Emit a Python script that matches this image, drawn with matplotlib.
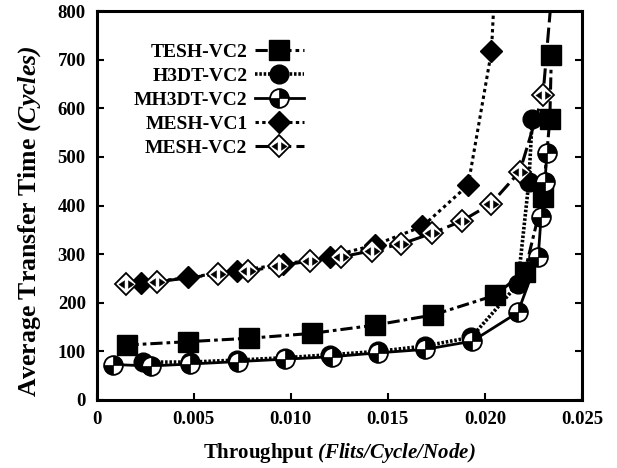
import numpy as np
import matplotlib
matplotlib.use("Agg")
import matplotlib.pyplot as plt
from matplotlib.path import Path
from matplotlib.legend_handler import HandlerTuple

plt.rcParams['font.family'] = ['Liberation Serif', 'DejaVu Serif']
plt.rcParams['font.weight'] = 'bold'
plt.rcParams['mathtext.fontset'] = 'custom'
plt.rcParams['mathtext.rm'] = 'Liberation Serif:bold'
plt.rcParams['mathtext.it'] = 'Liberation Serif:bold:italic'
plt.rcParams['mathtext.bf'] = 'Liberation Serif:bold'
plt.rcParams['mathtext.bfit'] = 'Liberation Serif:bold:italic'

# ---- data ----
tesh_x = [0.00153, 0.0047, 0.00784, 0.01107, 0.01433, 0.01734, 0.0205, 0.02206, 0.0230, 0.02335, 0.02343]
tesh_y = [113, 120, 127, 137, 154, 175, 215, 264, 418, 578, 710]

h3dt_x = [0.0024, 0.0048, 0.0072, 0.0097, 0.0120, 0.0145, 0.0169, 0.0193, 0.0217, 0.02227, 0.02244]
h3dt_y = [78, 78, 82, 87, 93, 100, 111, 129, 238, 449, 578]

mh3dt_x = [0.00084, 0.00277, 0.0048, 0.00725, 0.0097, 0.0121, 0.0145, 0.0169, 0.01935, 0.0217, 0.02275, 0.0229, 0.0231, 0.0232]
mh3dt_y = [73, 70, 74, 79, 84, 89, 97, 104, 121, 180, 294, 376, 449, 508]

mesh1_x = [0.0023, 0.0047, 0.0072, 0.0096, 0.0120, 0.01433, 0.01678, 0.01914, 0.02034, 0.0207]
mesh1_y = [240, 252, 266, 279, 295, 319, 357, 442, 717, 1000]

mesh2_x = [0.0015, 0.00308, 0.00622, 0.0078, 0.0094, 0.01098, 0.01256, 0.01416, 0.0157, 0.01728, 0.0188, 0.0203, 0.0218, 0.0230, 0.0238]
mesh2_y = [238, 243, 259, 265, 276, 286, 294, 307, 321, 343, 368, 403, 470, 628, 1000]

labels = ["TESH-VC2", "H3DT-VC2", "MH3DT-VC2", "MESH-VC1", "MESH-VC2"]
x_ticks = [0, 0.005, 0.010, 0.015, 0.020, 0.025]
x_tick_labels = ["0", "0.005", "0.010", "0.015", "0.020", "0.025"]
y_ticks = [0, 100, 200, 300, 400, 500, 600, 700, 800]

# ---- custom markers ----
w1 = Path.wedge(0, 90)
w2 = Path.wedge(180, 270)
checker_circle = Path.make_compound_path(w1, w2)

diamond_inner = Path(
    [(-1, 0), (-0.25, 0.5), (-0.25, -0.5), (-1, 0),
     (1, 0), (0.25, 0.5), (0.25, -0.5), (1, 0),
     (0, 1), (0, -1)],
    [Path.MOVETO, Path.LINETO, Path.LINETO, Path.CLOSEPOLY,
     Path.MOVETO, Path.LINETO, Path.LINETO, Path.CLOSEPOLY,
     Path.MOVETO, Path.MOVETO])

fig = plt.figure(figsize=(6.17, 4.68), dpi=100)
ax = fig.add_axes([0.157, 0.1453, 0.786, 0.831])

lw = 2.2
h_tesh, = ax.plot(tesh_x, tesh_y, color='black', lw=lw, linestyle=(0, (4, 1.3, 1.2, 1.3)),
                  marker='s', markersize=14, markerfacecolor='black', markeredgecolor='black')
h_h3dt, = ax.plot(h3dt_x, h3dt_y, color='black', lw=2.6, linestyle=(0, (0.7, 0.5)),
                  marker='o', markersize=13.5, markerfacecolor='black', markeredgecolor='black')
h_mh_line, = ax.plot(mh3dt_x, mh3dt_y, color='black', lw=2.0, linestyle='-',
                     marker='o', markersize=13.5, markerfacecolor='white', markeredgecolor='black',
                     markeredgewidth=1.3)
h_mh_mark, = ax.plot(mh3dt_x, mh3dt_y, linestyle='none', marker=checker_circle, markersize=13.5,
                     markerfacecolor='black', markeredgecolor='black', markeredgewidth=0.5)
h_m1, = ax.plot(mesh1_x, mesh1_y, color='black', lw=lw, linestyle=(0, (1.1, 1.1)),
                marker='D', markersize=11, markerfacecolor='black', markeredgecolor='black')
h_m2_line, = ax.plot(mesh2_x, mesh2_y, color='black', lw=lw, linestyle=(0, (5, 1.7)),
                     marker='D', markersize=11, markerfacecolor='white', markeredgecolor='black',
                     markeredgewidth=1.3)
h_m2_mark, = ax.plot(mesh2_x, mesh2_y, linestyle='none', marker=diamond_inner, markersize=11,
                     markerfacecolor='black', markeredgecolor='black', markeredgewidth=0.3)

ax.set_xlim(0, 0.025)
ax.set_ylim(0, 800)
ax.set_xticks(x_ticks)
ax.set_xticklabels(x_tick_labels)
ax.set_yticks(y_ticks)
ax.tick_params(axis='both', direction='in', length=5, width=1.5, labelsize=13.5,
               top=False, right=True, pad=8)
for lab in ax.get_xticklabels() + ax.get_yticklabels():
    lab.set_fontweight('bold')
for sp in ax.spines.values():
    sp.set_linewidth(2.2)

ax.set_xlabel(r"Throughput $\mathbfit{(Flits/Cycle/Node)}$", fontsize=15, fontweight='bold', labelpad=9)
ax.set_ylabel(r"Average Transfer Time $\mathbfit{(Cycles)}$", fontsize=18.5, fontweight='bold')
ax.yaxis.set_label_coords(-0.112, 0.46)

handles = [h_tesh, h_h3dt, (h_mh_line, h_mh_mark), h_m1, (h_m2_line, h_m2_mark)]
leg = ax.legend(handles, labels, loc='upper left', bbox_to_anchor=(0.04, 0.962), frameon=False,
                markerfirst=False, numpoints=1, handlelength=2.5, handletextpad=0.4,
                labelspacing=0.33, prop={'family': 'Liberation Serif', 'weight': 'bold', 'size': 14},
                handler_map={tuple: HandlerTuple(ndivide=1)})

fig.savefig("out.png", dpi=100)
